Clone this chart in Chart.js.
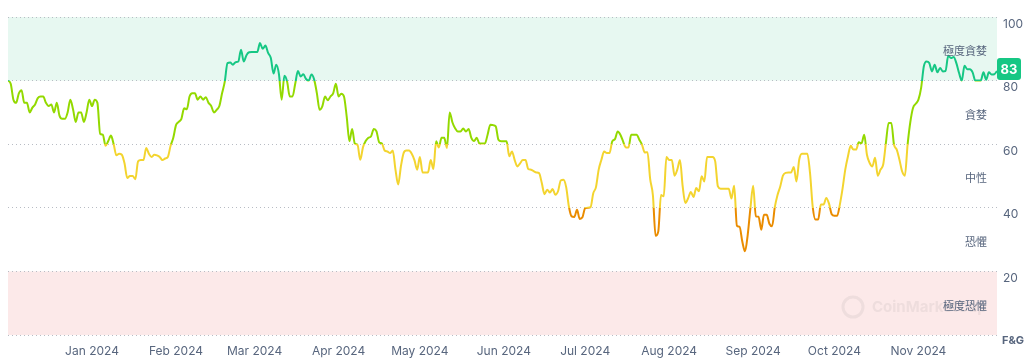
<!DOCTYPE html>
<html lang="zh-Hant">
<head>
<meta charset="UTF-8">
<title>恐懼與貪婪指數</title>
<style>
  html, body { margin: 0; padding: 0; background: #fff; }
  #wrap { width: 1032px; height: 364px; }
</style>
</head>
<body>
<div id="wrap"><canvas id="fg-chart" width="1032" height="364"></canvas></div>
<script src="https://cdn.jsdelivr.net/npm/chart.js"></script>
<script>
// daily index values, 1 Dec 2023 .. 30 Nov 2024
const fgValues = [
  80, 79, 74, 73, 76, 77, 73, 73, 70, 71.5,
  72.5, 74.5, 75, 75, 73, 72, 72.5, 70, 73, 69,
  68, 68, 70, 74, 71, 67, 70, 70, 67, 70,
  74, 72, 74, 73, 63.3, 63, 59.5, 61, 62.7, 60,
  56.5, 57, 56.7, 54, 49.4, 50, 50, 49, 54.6, 55,
  55, 58.8, 57, 56, 56.7, 56.5, 56, 55, 55.5, 56,
  59.5, 62, 66, 67, 68, 71.3, 71, 75, 76, 76,
  74, 75, 74, 74.8, 73, 72, 70, 70.8, 72, 76,
  79.7, 85.5, 85.7, 85, 85.8, 86, 89.7, 86, 88, 88.9,
  89, 89, 89, 91.8, 90, 91, 88.7, 87.1, 82.2, 85,
  82, 74, 81.5, 79.7, 75, 75, 79, 83, 81.3, 82,
  80.5, 80, 81.9, 80.3, 76, 70.8, 71.9, 75, 73.8, 75,
  76, 79, 75, 75.9, 75, 68.7, 60.9, 64.8, 60.2, 59.8,
  55.1, 59, 61, 62, 62.5, 64.8, 64, 60.6, 60.2, 58,
  57.7, 57.2, 58, 52, 47.3, 53, 57.2, 58, 58, 57,
  55, 52, 56, 51.1, 51.1, 51.1, 55, 52.2, 60.9, 59,
  62, 62, 58.8, 70, 66.9, 65, 64, 64, 64.9, 64,
  64.8, 62, 61, 62, 60.2, 60.2, 60.2, 63, 66.1, 66,
  65.6, 61.4, 60.9, 60.9, 60.9, 56.2, 57.7, 55, 53, 54,
  55, 55, 52.2, 52, 51.5, 51.1, 50.9, 47.8, 44.3, 45.7,
  44.8, 45.9, 44.1, 45.2, 48.6, 48.8, 46.5, 40.4, 37.3, 37.1,
  39.4, 36.5, 37, 39.9, 40, 40.2, 44.6, 46.5, 52, 55.1,
  57.7, 57.2, 57.2, 60.9, 61.6, 64, 63, 60.9, 59, 59,
  63, 63, 63, 61.4, 59.8, 57.4, 57.5, 49, 44, 31.2,
  32.6, 44, 43.6, 56, 55, 55, 50.1, 52, 55, 46.7,
  41.5, 43, 45, 43.4, 46.2, 45.2, 49.9, 48.3, 56, 56,
  56, 54.6, 46.7, 46, 46, 46, 46, 42.9, 46.9, 34.4,
  34, 29.4, 26.3, 31.5, 39.9, 46.9, 37.3, 37.2, 33.1, 37.8,
  37.8, 35, 34.2, 40.2, 44, 46.7, 50.1, 51, 51.1, 51.1,
  52.8, 48.3, 55.1, 57, 57, 57, 50.9, 40.2, 36.3, 36.3,
  41, 41, 43.1, 41.3, 38, 37.5, 37.5, 41, 46, 52,
  56.2, 59.5, 58.3, 58.3, 60.6, 60.3, 63, 56.7, 54.1, 53,
  55.7, 50.1, 52, 53.6, 60.4, 66.7, 66.7, 59.8, 58.3, 55.1,
  51.4, 50.1, 59.8, 66.9, 71.4, 72.7, 74, 77.7, 84.5, 86,
  85.5, 82.9, 85, 82.6, 84, 82.9, 83, 87.8, 87.1, 87.4,
  85.5, 82.4, 80, 84.7, 83.6, 83.6, 82.6, 80, 80, 80,
  82.6, 80.3, 82.6, 81.9, 82, 83
];

// day index of each month start, and its label
const monthDays = [31, 62, 91, 122, 152, 183, 213, 244, 275, 305, 336];
const monthLabels = ['Jan 2024', 'Feb 2024', 'Mar 2024', 'Apr 2024', 'May 2024', 'Jun 2024',
                     'Jul 2024', 'Aug 2024', 'Sep 2024', 'Oct 2024', 'Nov 2024'];

const yTickValues = [0, 20, 40, 60, 80, 100];
const zoneNames = ['極度恐懼', '恐懼', '中性', '貪婪', '極度貪婪'];
const zoneMids = [10, 30, 50, 70, 90];
const zoneColors = ['#ea3943', '#ea8c00', '#f3d42f', '#93d900', '#16c784'];

const FONT = "Inter, 'Noto Sans CJK TC', sans-serif";
const TEXT = '#58667e';

function lineGradient(context) {
    const chart = context.chart;
    const { ctx, chartArea, scales } = chart;
    if (!chartArea) return zoneColors[3];
    const y0 = scales.y.getPixelForValue(0);
    const y1 = scales.y.getPixelForValue(100);
    const g = ctx.createLinearGradient(0, y0, 0, y1);
    zoneColors.forEach((c, i) => {
        g.addColorStop(i * 0.2, c);
        g.addColorStop((i + 1) * 0.2, c);
    });
    return g;
}

const fgDecor = {
    id: 'fgDecor',
    beforeDraw(chart) {
        const { ctx, chartArea: a, scales: { y } } = chart;
        ctx.save();
        ctx.fillStyle = '#e7f8f1';
        ctx.fillRect(a.left, y.getPixelForValue(100), a.width, y.getPixelForValue(80) - y.getPixelForValue(100));
        ctx.fillStyle = '#fce9e9';
        ctx.fillRect(a.left, y.getPixelForValue(20), a.width, y.getPixelForValue(0) - y.getPixelForValue(20));

        // faint watermark
        ctx.strokeStyle = 'rgba(120,120,120,0.10)';
        ctx.lineWidth = 3;
        ctx.beginPath();
        ctx.arc(853, 307, 10, 0, Math.PI * 2);
        ctx.stroke();
        ctx.fillStyle = 'rgba(120,120,120,0.10)';
        ctx.font = "bold 15px " + FONT;
        ctx.textBaseline = 'middle';
        ctx.fillText('CoinMarketCap', 872, 307);
        ctx.restore();
    },
    afterDatasetsDraw(chart) {
        const { ctx, chartArea: a, scales: { y } } = chart;
        ctx.save();
        ctx.fillStyle = TEXT;
        ctx.font = "11px " + FONT;
        ctx.textAlign = 'right';
        ctx.textBaseline = 'middle';
        zoneNames.forEach((n, i) => ctx.fillText(n, a.right - 10, y.getPixelForValue(zoneMids[i]) + 3));

        // F&G axis caption
        ctx.textAlign = 'left';
        ctx.font = "bold 11px " + FONT;
        ctx.fillText('F&G', a.right + 5, a.bottom + 6);

        // current value badge
        const last = fgValues[fgValues.length - 1];
        const by = y.getPixelForValue(last) - 2;
        ctx.fillStyle = zoneColors[4];
        ctx.beginPath();
        ctx.roundRect(a.right, by - 11, 24, 22, 3);
        ctx.fill();
        ctx.fillStyle = '#fff';
        ctx.font = "bold 13px " + FONT;
        ctx.textAlign = 'center';
        ctx.fillText(String(last), a.right + 12, by + 1);
        ctx.restore();
    }
};

new Chart(document.getElementById('fg-chart'), {
    type: 'line',
    data: {
        datasets: [{
            data: fgValues.map((v, i) => ({ x: i, y: v })),
            borderColor: lineGradient,
            borderWidth: 2,
            pointRadius: 0,
            cubicInterpolationMode: 'monotone',
            fill: false
        }]
    },
    options: {
        responsive: false,
        animation: false,
        devicePixelRatio: 1,
        layout: { padding: { left: 8, top: 17, right: 0, bottom: 0 } },
        plugins: { legend: { display: false }, tooltip: { enabled: false } },
        scales: {
            x: {
                type: 'linear',
                min: 0,
                max: fgValues.length - 1,
                grid: { display: false, drawTicks: false },
                border: { display: false },
                afterBuildTicks: scale => { scale.ticks = monthDays.map(v => ({ value: v })); },
                afterFit: scale => { scale.height = 29; },
                ticks: {
                    autoSkip: false,
                    maxRotation: 0,
                    padding: 9,
                    color: TEXT,
                    font: { family: FONT, size: 12 },
                    callback: v => monthLabels[monthDays.indexOf(v)] || ''
                }
            },
            y: {
                position: 'right',
                min: 0,
                max: 100,
                afterBuildTicks: scale => { scale.ticks = yTickValues.map(v => ({ value: v })); },
                afterFit: scale => { scale.width = 35; },
                grid: { color: '#b8bcc4', lineWidth: 1, drawTicks: false },
                border: { display: false, dash: [1, 3] },
                ticks: {
                    padding: 6,
                    labelOffset: 7,
                    color: TEXT,
                    font: { family: FONT, size: 12 },
                    callback: v => v === 0 ? '' : v
                }
            }
        }
    },
    plugins: [fgDecor]
});
</script>
</body>
</html>
